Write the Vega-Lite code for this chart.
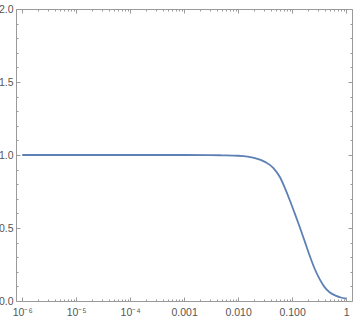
{
  "$schema": "https://vega.github.io/schema/vega-lite/v6.json",
  "width": 336,
  "height": 292,
  "autosize": {"type": "none"},
  "padding": {"left": 16, "top": 9, "right": 2, "bottom": 26},
  "config": {
    "view": {"stroke": null},
    "axis": {
      "grid": false,
      "title": null,
      "domainColor": "#9a9a9a",
      "tickColor": "#9a9a9a",
      "domainWidth": 1,
      "tickWidth": 1,
      "labelFont": "Liberation Sans",
      "labelFontSize": 10.5,
      "labelColor": "#555555"
    }
  },
  "data": {
    "values": [
      {"x": 0.000001, "y": 1.0},
      {"x": 0.00001, "y": 1.0},
      {"x": 0.0001, "y": 1.0},
      {"x": 0.001, "y": 1.0},
      {"x": 0.003, "y": 0.9995},
      {"x": 0.005, "y": 0.998},
      {"x": 0.01, "y": 0.995},
      {"x": 0.015, "y": 0.989},
      {"x": 0.0205, "y": 0.979},
      {"x": 0.0314, "y": 0.953},
      {"x": 0.0447, "y": 0.912},
      {"x": 0.0593, "y": 0.849},
      {"x": 0.0734, "y": 0.775},
      {"x": 0.0907, "y": 0.69},
      {"x": 0.112, "y": 0.6},
      {"x": 0.139, "y": 0.505},
      {"x": 0.171, "y": 0.41},
      {"x": 0.212, "y": 0.31},
      {"x": 0.262, "y": 0.221},
      {"x": 0.324, "y": 0.15},
      {"x": 0.4, "y": 0.095},
      {"x": 0.494, "y": 0.06},
      {"x": 0.657, "y": 0.035},
      {"x": 0.8, "y": 0.024},
      {"x": 1.0, "y": 0.017}
    ]
  },
  "resolve": {"axis": {"x": "independent", "y": "independent"}},
  "layer": [
    {
      "mark": {"type": "line", "opacity": 0},
      "encoding": {
        "x": {"field": "x", "type": "quantitative", "scale": {"type": "log", "domain": [7.67e-7, 1.288], "nice": false},
          "axis": {"orient": "bottom", "labels": false, "domain": false, "tickSize": -2,
            "values": [2e-6,3e-6,4e-6,5e-6,6e-6,7e-6,8e-6,9e-6,2e-5,3e-5,4e-5,5e-5,6e-5,7e-5,8e-5,9e-5,2e-4,3e-4,4e-4,5e-4,6e-4,7e-4,8e-4,9e-4,0.002,0.003,0.004,0.005,0.006,0.007,0.008,0.009,0.02,0.03,0.04,0.05,0.06,0.07,0.08,0.09,0.2,0.3,0.4,0.5,0.6,0.7,0.8,0.9]}},
        "y": {"field": "y", "type": "quantitative", "scale": {"domain": [0, 2], "nice": false},
          "axis": {"orient": "left", "labels": false, "domain": false, "tickSize": -2,
            "values": [0.1,0.2,0.3,0.4,0.6,0.7,0.8,0.9,1.1,1.2,1.3,1.4,1.6,1.7,1.8,1.9]}}
      }
    },
    {
      "mark": {"type": "line", "opacity": 0},
      "encoding": {
        "x": {"field": "x", "type": "quantitative",
          "axis": {"orient": "top", "labels": false, "domain": false, "tickSize": -2,
            "values": [2e-6,3e-6,4e-6,5e-6,6e-6,7e-6,8e-6,9e-6,2e-5,3e-5,4e-5,5e-5,6e-5,7e-5,8e-5,9e-5,2e-4,3e-4,4e-4,5e-4,6e-4,7e-4,8e-4,9e-4,0.002,0.003,0.004,0.005,0.006,0.007,0.008,0.009,0.02,0.03,0.04,0.05,0.06,0.07,0.08,0.09,0.2,0.3,0.4,0.5,0.6,0.7,0.8,0.9]}},
        "y": {"field": "y", "type": "quantitative",
          "axis": {"orient": "right", "labels": false, "domain": false, "tickSize": -2,
            "values": [0.1,0.2,0.3,0.4,0.6,0.7,0.8,0.9,1.1,1.2,1.3,1.4,1.6,1.7,1.8,1.9]}}
      }
    },
    {
      "mark": {"type": "line", "opacity": 0},
      "encoding": {
        "x": {"field": "x", "type": "quantitative",
          "axis": {"orient": "top", "labels": false, "tickSize": -4, "values": [0.000001,0.00001,0.0001,0.001,0.01,0.1,1]}},
        "y": {"field": "y", "type": "quantitative",
          "axis": {"orient": "right", "labels": false, "tickSize": -4, "values": [0,0.5,1,1.5,2]}}
      }
    },
    {
      "mark": {"type": "line", "color": "#5E81B5", "strokeWidth": 1.8, "interpolate": "monotone"},
      "encoding": {
        "x": {"field": "x", "type": "quantitative",
          "axis": {"orient": "bottom", "tickSize": -4, "labelPadding": 10, "labelFlush": false,
            "values": [0.000001,0.00001,0.0001,0.001,0.01,0.1,1],
            "labelExpr": "datum.value < 0.000005 ? '10⁻⁶' : datum.value < 0.00005 ? '10⁻⁵' : datum.value < 0.0005 ? '10⁻⁴' : datum.value < 0.005 ? '0.001' : datum.value < 0.05 ? '0.010' : datum.value < 0.5 ? '0.100' : '1'"}},
        "y": {"field": "y", "type": "quantitative",
          "axis": {"orient": "left", "tickSize": -4, "labelPadding": 7, "format": ".1f", "labelFlush": false,
            "values": [0,0.5,1,1.5,2]}}
      }
    }
  ]
}
